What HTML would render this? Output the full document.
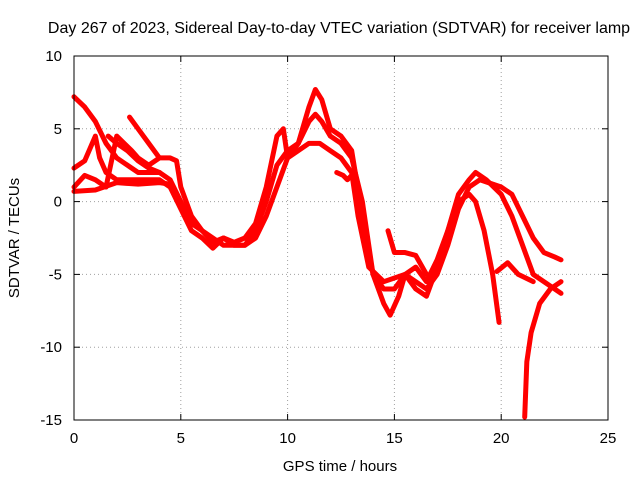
<!DOCTYPE html>
<html><head><meta charset="utf-8"><style>
body{margin:0;background:#fff;}
svg{display:block;font-family:"Liberation Sans",sans-serif;}
</style></head><body>
<svg id="chart" width="640" height="480" xmlns="http://www.w3.org/2000/svg">
<rect width="640" height="480" fill="#fff"/>
<text x="339" y="33" font-size="16" text-anchor="middle">Day 267 of 2023, Sidereal Day-to-day VTEC variation (SDTVAR) for receiver lamp</text>
<text x="340" y="471" font-size="15" text-anchor="middle">GPS time / hours</text>
<text x="19" y="238" font-size="15" text-anchor="middle" transform="rotate(-90 19 238)">SDTVAR / TECUs</text>
<g id="grid"></g>
<g id="series"></g>
<rect x="74" y="56" width="534" height="364" fill="none" stroke="#000" stroke-width="1"/>
</svg>
<script>
const xTicks=[0,5,10,15,20,25];
const yTicks=[10,5,0,-5,-10,-15];
const s1=[[0,7.2],[0.5,6.5],[1,5.5],[1.5,4],[2,3],[3,2],[4,2],[4.5,1.5],[5,0],[5.5,-1.5],[6,-2],[6.5,-2.8],[7,-2.5],[7.5,-3],[8,-3],[8.5,-2],[9,0],[9.5,2.5],[10,3.5],[10.5,4],[11,5.5],[11.3,6],[11.6,5.5],[12,4.5],[12.5,4],[13,3],[13.5,0],[14,-5],[14.5,-7],[14.8,-7.8],[15.2,-6.5],[15.5,-5],[16,-5.5],[16.5,-6],[17,-5],[17.5,-3],[18,-0.5],[18.5,1],[19,1.5],[20,1],[20.5,0.5],[21,-1],[21.5,-2.5],[22,-3.5],[22.5,-3.8],[22.8,-4]];
const s2=[[0,2.3],[0.5,2.8],[1,4.5],[1.2,3],[1.5,2],[2,1.5],[3,1.5],[4,1.5],[4.5,1],[5,-0.5],[5.5,-2],[6,-2.5],[6.5,-3.2],[7,-2.5],[7.5,-2.8],[8,-2.5],[8.5,-1.5],[9,1],[9.5,4.5],[9.8,5],[10,3],[10.5,4],[11,6.5],[11.3,7.7],[11.6,7],[12,5],[12.5,4.5],[13,3.5],[13.5,-1],[14,-5],[14.5,-6],[15,-6],[15.5,-5],[16,-4.5],[16.5,-5.5],[17,-4],[17.5,-2],[18,0.5],[18.5,1.5],[18.8,2],[19.3,1.5],[20,0.5],[20.5,-1],[21,-3],[21.5,-5],[22,-5.5],[22.5,-6],[22.8,-6.3]];
const s3=[[0,1],[0.5,1.8],[1,1.5],[1.5,1],[2,4.5],[2.7,3.5],[3,3],[3.5,2.5],[4,3],[4.5,3],[4.8,2.8],[5,1],[5.5,-1],[6,-2],[7,-3],[8,-3],[8.5,-2.5],[9,-1],[9.5,1],[10,3],[11,4],[11.5,4],[12,3.5],[12.5,3],[13,2],[13.3,-1],[13.8,-4.5],[14.5,-5.5],[15.5,-5],[16,-6],[16.5,-6.5],[17,-4.5],[17.5,-2],[18,0],[18.5,0.5],[18.8,0],[19.2,-2],[19.6,-5],[19.9,-8.3]];
const s4=[[21.1,-14.8],[21.2,-11],[21.4,-9],[21.8,-7],[22.3,-6],[22.8,-5.5]];
const s5=[[19.8,-4.8],[20.3,-4.2],[20.8,-5],[21.5,-5.5]];
const s6=[[12.3,2],[12.6,1.8],[12.8,1.5],[13,1.8],[13.3,0.5],[13.5,-2]];
const s7=[[14.7,-2],[15,-3.5],[15.5,-3.5],[16,-3.7],[16.5,-5]];
const s8=[[2.6,5.8],[3,5],[3.5,4],[4,3]];
const s9=[[1.6,4.5],[2,4],[2.5,3.5],[3,2.8],[3.5,2.3],[4,2]];
const s10=[[0,0.7],[1,0.8],[2,1.3],[3,1.2],[4,1.3],[4.5,1.2]];
const allSeries=[s1,s2,s3,s4,s5,s6,s7,s8,s9,s10];
const NS="http://www.w3.org/2000/svg";
const X0=74,X1=608,Y0=420,Y1=56;
function xs(v){return X0+(v-0)/(25-0)*(X1-X0);}
function ys(v){return Y0-(v+15)/(10+15)*(Y0-Y1);}
const grid=document.getElementById('grid');
function mk(tag,attrs,parent){const e=document.createElementNS(NS,tag);for(const k in attrs)e.setAttribute(k,attrs[k]);parent.appendChild(e);return e;}
xTicks.forEach(t=>{
  const x=xs(t);
  if(t>0&&t<25){const g=mk('line',{x1:x,x2:x,y1:Y1,y2:Y0,stroke:'#a0a0a0','stroke-dasharray':'1,3'},grid);
  
  }
  const a=mk('line',{x1:x,x2:x,y1:Y0,y2:Y0-6,stroke:'#000'},grid);
  
  
  const b=mk('line',{x1:x,x2:x,y1:Y1,y2:Y1+6,stroke:'#000'},grid);
  
  
  const l=mk('text',{x:x,y:443,'font-size':15,'text-anchor':'middle'},grid);l.textContent=t;
  
  
});
yTicks.forEach(t=>{
  const y=ys(t);
  if(t>-15&&t<10){const g=mk('line',{x1:X0,x2:X1,y1:y,y2:y,stroke:'#a0a0a0','stroke-dasharray':'1,3'},grid);
  
  }
  const a=mk('line',{x1:X0,x2:X0+6,y1:y,y2:y,stroke:'#000'},grid);
  
  
  const b=mk('line',{x1:X1,x2:X1-6,y1:y,y2:y,stroke:'#000'},grid);
  
  
  const l=mk('text',{x:62,y:y+5,'font-size':15,'text-anchor':'end'},grid);l.textContent=t;
  
  
});
const sg=document.getElementById('series');
allSeries.forEach((s,i)=>{
  const p=mk('polyline',{points:s.map(d=>xs(d[0])+','+ys(d[1])).join(' '),fill:'none',stroke:'#ff0000','stroke-width':5,'stroke-linejoin':'round','stroke-linecap':'round'},sg);
  
  
});
</script>
</body></html>
